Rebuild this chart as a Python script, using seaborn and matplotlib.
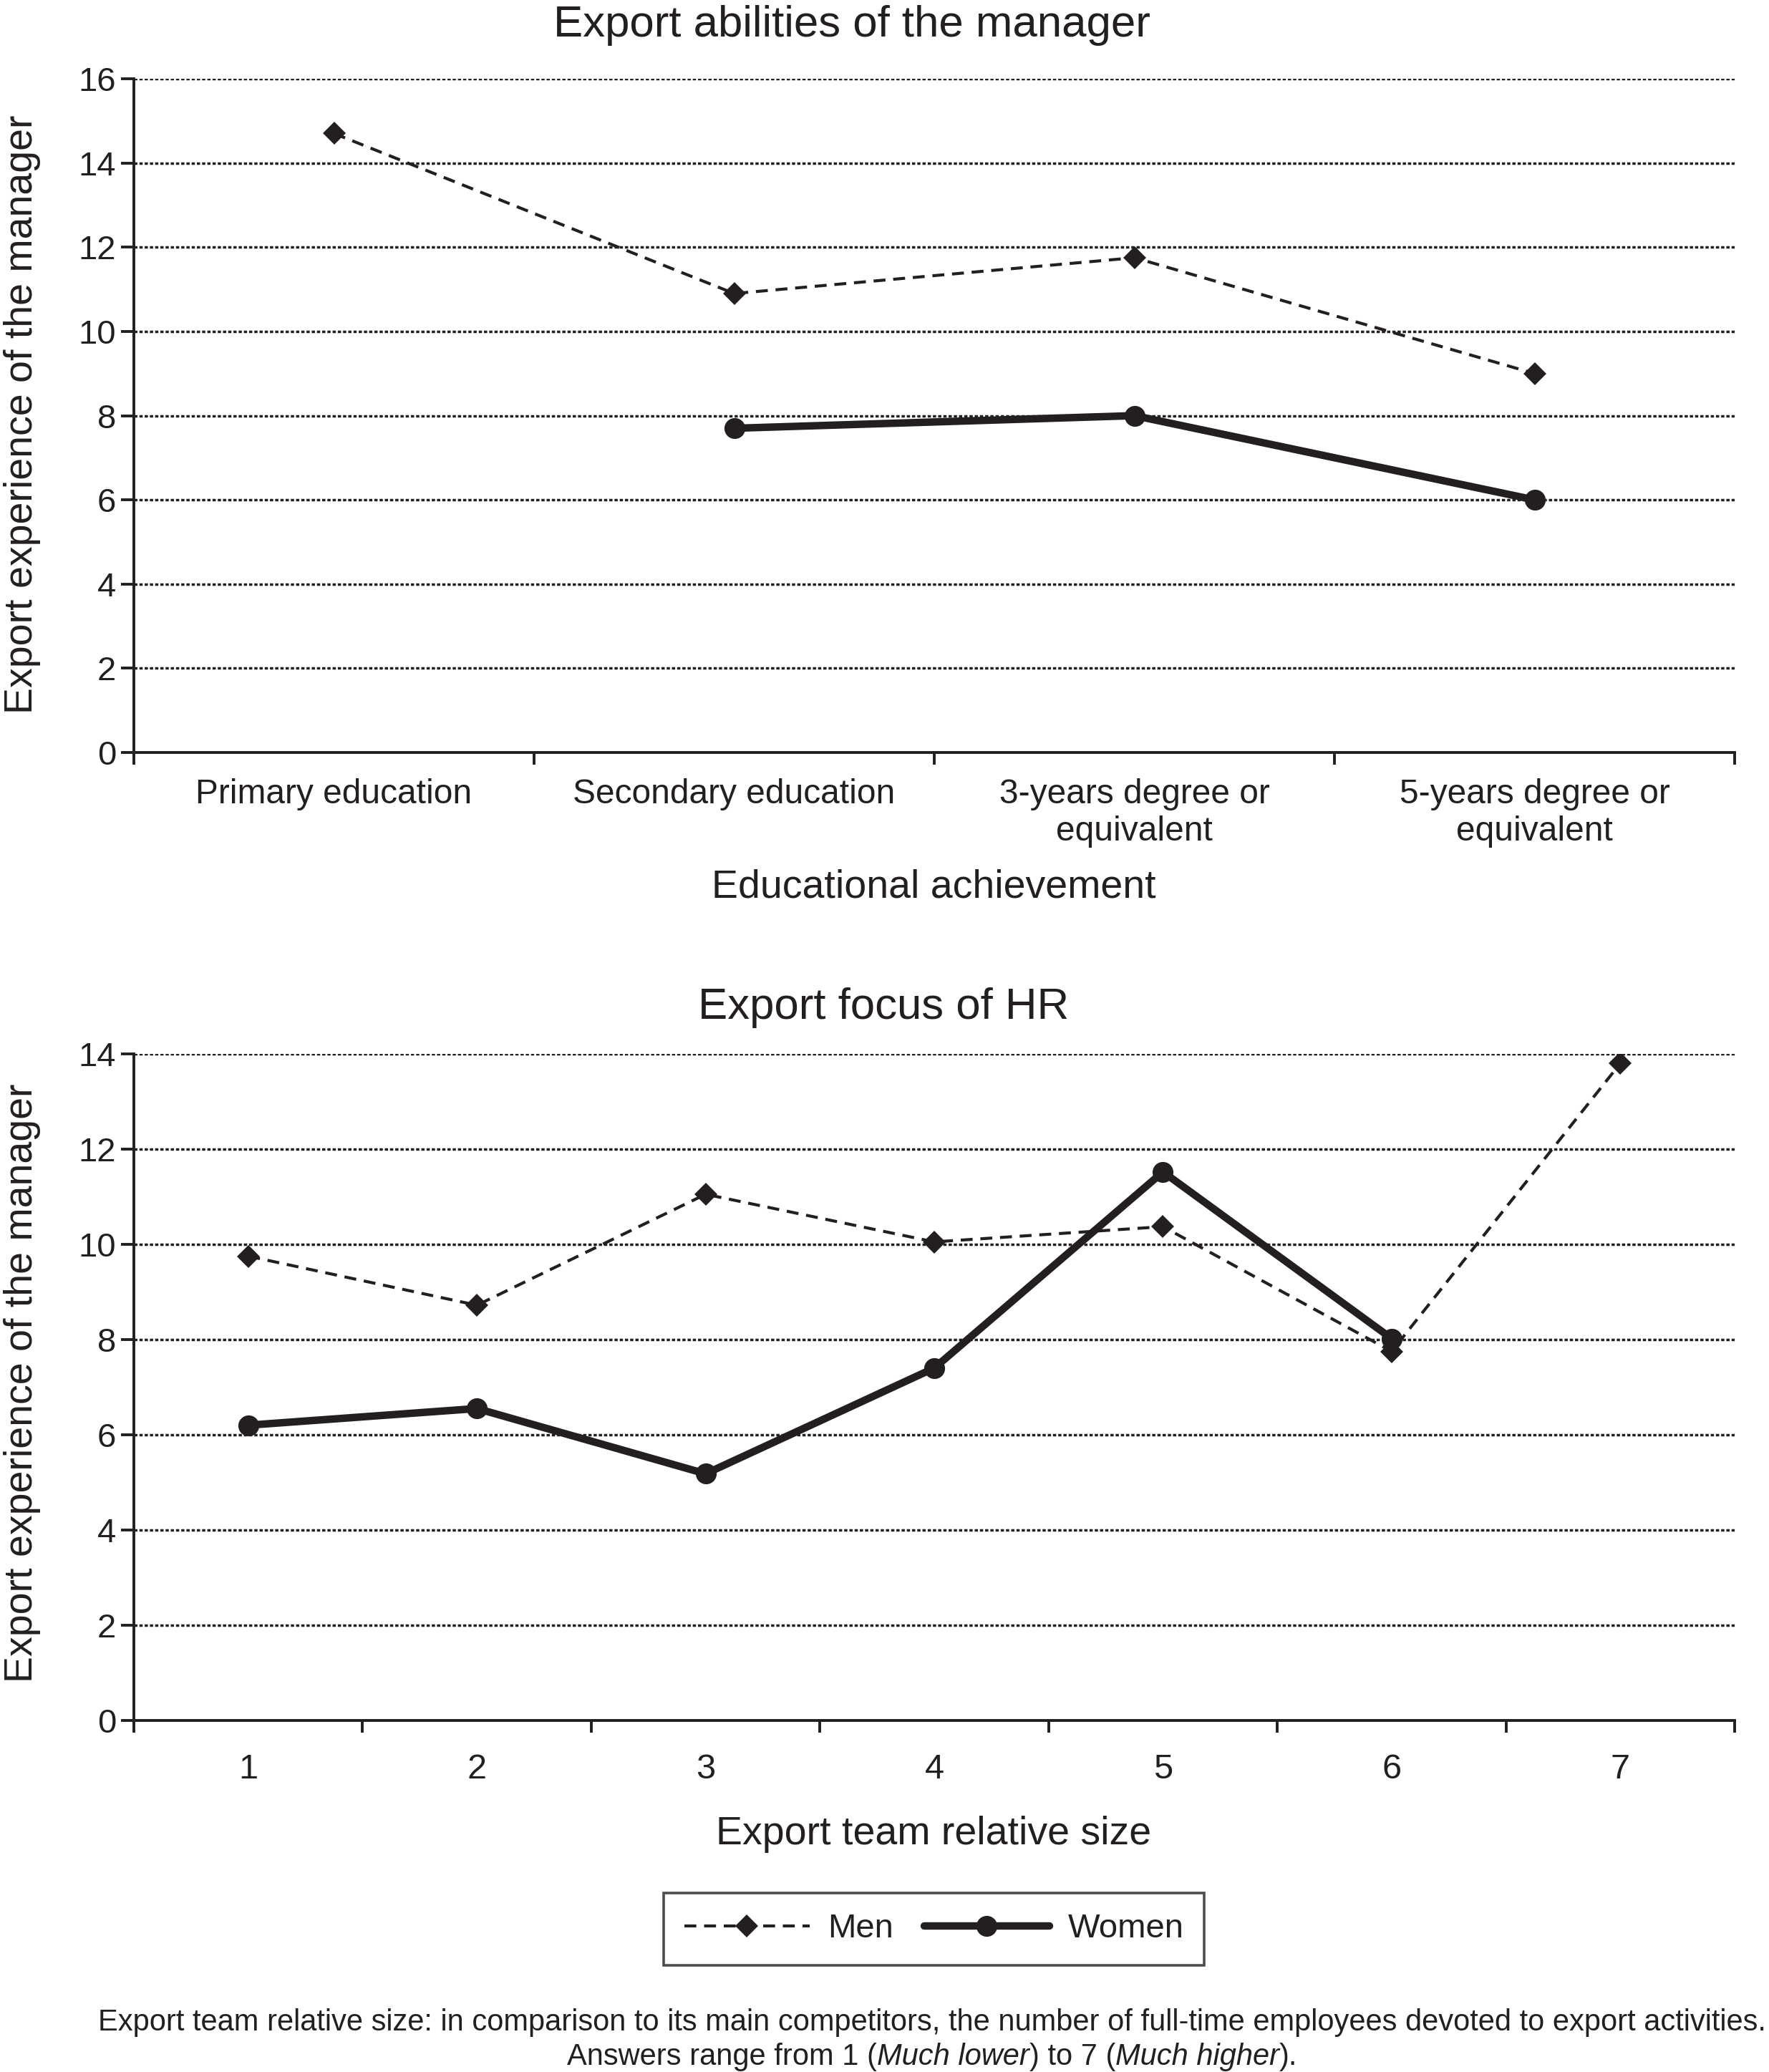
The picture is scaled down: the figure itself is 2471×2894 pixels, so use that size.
import numpy as np
import pandas as pd
import matplotlib
matplotlib.use("Agg")
import matplotlib.pyplot as plt
import seaborn as sns

# values
edu_levels = ["Primary education", "Secondary education",
              "3-years degree or\nequivalent", "5-years degree or\nequivalent"]
men_edu = [14.7, 10.9, 11.75, 9.0]
women_edu = [np.nan, 7.7, 8.0, 6.0]

team_sizes = [1, 2, 3, 4, 5, 6, 7]
men_size = [9.75, 8.72, 11.05, 10.05, 10.37, 7.75, 13.8]
women_size = [6.2, 6.55, 5.18, 7.4, 11.52, 8.02, np.nan]

edu_yticks = [0, 2, 4, 6, 8, 10, 12, 14, 16]
size_yticks = [0, 2, 4, 6, 8, 10, 12, 14]

sns.set_style("white")
plt.rcParams["font.family"] = ["Liberation Sans", "DejaVu Sans"]
INK = "#231f20"
plt.rcParams["text.color"] = INK

W, H = 2471, 2894
fig = plt.figure(figsize=(W / 100, H / 100), dpi=100)
ax1 = fig.add_axes([0.0757, 0.6368, 0.9049, 0.3252])
ax2 = fig.add_axes([0.0757, 0.1697, 0.9049, 0.3217])

df_edu = pd.DataFrame({"pos": np.arange(len(edu_levels)), "Men": men_edu, "Women": women_edu})
df_size = pd.DataFrame({"pos": team_sizes, "Men": men_size, "Women": women_size})

men_kw = dict(color=INK, linestyle=(0, (4, 2.6)), linewidth=3.0, marker="D",
              markersize=16, markeredgewidth=0)
women_kw = dict(color=INK, linestyle="-", linewidth=7.5, marker="o",
                markersize=21, markeredgewidth=0)


def style_axis(ax, yticks, ncat, labels, label_size, label_pad):
    ax.set_ylim(yticks[0], yticks[-1])
    ax.set_yticks(yticks)
    ax.set_xlabel("")
    ax.set_ylabel("")
    for side in ["top", "right"]:
        ax.spines[side].set_visible(False)
    for side in ["left", "bottom"]:
        ax.spines[side].set_linewidth(2.8)
        ax.spines[side].set_color(INK)
        ax.spines[side].set_capstyle("projecting")
    ax.yaxis.grid(True, color=INK, linestyle=(0, (1.3, 0.8)), linewidth=2.5)
    ax.xaxis.grid(False)
    ax.set_axisbelow(True)
    ax.tick_params(axis="y", which="major", direction="out", length=13, width=2.8,
                   color=INK, labelsize=34, pad=5, left=True, labelcolor=INK)
    # category boundaries get the tick marks, centres get the labels
    ax.set_xticks(np.arange(ncat + 1) + ax.get_xlim()[0])
    ax.set_xticklabels([])
    ax.set_xticks(np.arange(ncat) + ax.get_xlim()[0] + 0.5, minor=True)
    ax.set_xticklabels(labels, minor=True)
    ax.tick_params(axis="x", which="major", direction="out", length=12, width=2.8,
                   color=INK, bottom=True)
    ax.tick_params(axis="x", which="minor", length=0, labelsize=label_size,
                   pad=label_pad, labelcolor=INK)


sns.lineplot(data=df_edu, x="pos", y="Men", ax=ax1, label="Men", **men_kw)
sns.lineplot(data=df_edu, x="pos", y="Women", ax=ax1, label="Women", **women_kw)
ax1.set_xlim(-0.5, len(edu_levels) - 0.5)
style_axis(ax1, edu_yticks, len(edu_levels), edu_levels, 34.5, 26)

sns.lineplot(data=df_size, x="pos", y="Men", ax=ax2, **men_kw)
sns.lineplot(data=df_size, x="pos", y="Women", ax=ax2, **women_kw)
ax2.set_xlim(0.5, len(team_sizes) + 0.5)
style_axis(ax2, size_yticks, len(team_sizes), [str(s) for s in team_sizes], 35, 33)

handles, names = ax1.get_legend_handles_labels()
ax1.get_legend().remove()

fig.text(0.4817, 0.9876, "Export abilities of the manager", fontsize=44.5,
         ha="center", va="center")
fig.text(0.4993, 0.5135, "Export focus of HR", fontsize=44.5, ha="center", va="center")
fig.text(0.5277, 0.5718, "Educational achievement", fontsize=40, ha="center", va="center")
fig.text(0.5277, 0.1147, "Export team relative size", fontsize=40, ha="center", va="center")
fig.text(0.0125, 0.80, "Export experience of the manager", fontsize=40,
         rotation=90, ha="center", va="center")
fig.text(0.0125, 0.3325, "Export experience of the manager", fontsize=40,
         rotation=90, ha="center", va="center")

leg = fig.legend(handles, names, loc="center", bbox_to_anchor=(0.528, 0.069),
                 ncol=2, fontsize=34, frameon=True, fancybox=False,
                 handlelength=3.7, handletextpad=0.55, columnspacing=0.9,
                 borderpad=0.6, edgecolor=INK)
leg.get_frame().set_linewidth(2.6)

# footnote, with italic pieces laid out one after another
note_font = ["Liberation Sans Narrow", "Liberation Sans"]
note_size = 30
renderer = fig.canvas.get_renderer()


def note_line(y, parts, xc=0.527):
    texts = [fig.text(0, y, s, fontsize=note_size, family=note_font, style=st,
                      ha="left", va="center") for s, st in parts]
    widths = [t.get_window_extent(renderer).width for t in texts]
    x = xc * W - sum(widths) / 2
    for t, w in zip(texts, widths):
        t.set_x(x / W)
        x += w


note_line(0.0238, [("Export team relative size: in comparison to its main competitors, "
                    "the number of full-time employees devoted to export activities.", "normal")])
note_line(0.0073, [("Answers range from 1 (", "normal"), ("Much lower", "italic"),
                   (") to 7 (", "normal"), ("Much higher", "italic"), (").", "normal")])

fig.savefig("out.png", dpi=100, facecolor="white")
